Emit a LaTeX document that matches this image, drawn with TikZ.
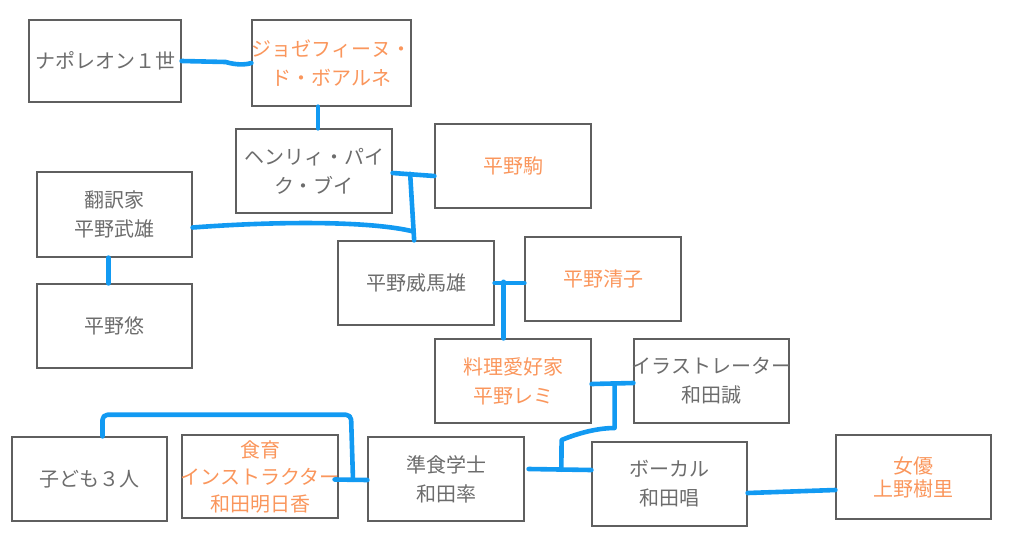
\documentclass[tikz,border=0pt]{standalone}
\usepackage{fontspec}
\usepackage{tikz}
\usetikzlibrary{calc}

\newfontfamily\jpfont{Noto Sans CJK JP}
\definecolor{boxgray}{RGB}{95,95,95}
\definecolor{textgray}{RGB}{108,108,108}
\definecolor{spouse}{RGB}{250,150,92}
\definecolor{linkblue}{RGB}{18,154,242}

\newcommand{\wideline}[1]{\makebox[150pt][c]{#1}}

\tikzset{
    person/.style={draw=boxgray, line width=1.2pt, minimum width=156pt, minimum height=84pt,
        inner sep=0pt, align=center, text=textgray, font=\jpfont\fontsize{20}{29}\selectfont},
    inlaw/.style={person, text=spouse},
    link/.style={draw=linkblue, line width=4.6pt, line cap=round, line join=round}
}

\begin{document}
\begin{tikzpicture}[x=1pt, y=-1pt]
        \useasboundingbox (0,0) rectangle (1024,538);

        %Boxes
        \node[person, minimum width=152pt, minimum height=82pt] (napoleon) at (105,61) {ナポレオン１世};
        \node[inlaw, minimum width=159pt, minimum height=86pt] (josephine) at (331.5,63) {\wideline{ジョゼフィーヌ・}\\ド・ボアルネ};
        \node[person] (henry) at (314,171) {ヘンリィ・パイ\\ク・ブイ};
        \node[inlaw] (koma) at (513,166) {平野駒};
        \node[person, minimum width=155pt, minimum height=85pt] (takeo) at (114.5,214.5) {翻訳家\\平野武雄};
        \node[person, minimum width=155pt] (yu) at (114.5,326) {平野悠};
        \node[person] (imao) at (416,283) {平野威馬雄};
        \node[inlaw] (kiyoko) at (603,279) {平野清子};
        \node[inlaw] (remi) at (513,381) {料理愛好家\\平野レミ};
        \node[person, minimum width=155pt] (makoto) at (711.5,381) {\wideline{イラストレーター}\\和田誠};
        \node[person, minimum width=155pt] (kids) at (89.5,479) {子ども３人};
        \node[inlaw, minimum height=83pt, font=\jpfont\fontsize{20}{27}\selectfont] (asuka) at (260,476.5) {食育\\\wideline{インストラクター}\\和田明日香};
        \node[person] (ritsu) at (446,479) {準食学士\\和田率};
        \node[person, minimum width=155pt] (sho) at (669.5,484) {ボーカル\\和田唱};
        \node[inlaw, minimum width=155pt, font=\jpfont\fontsize{20}{23}\selectfont] (juri) at (913.5,477) {女優\\上野樹里};

        %Lines
        \draw[link] (napoleon.east) -- ++(44,1) .. controls (236,65) and (245,65) .. (josephine.west);
        \draw[link] ($(henry.north)+(4,0)$) -- ($(henry.north |- josephine.south)+(4,0)$);

        \draw[link] ($(henry.east)+(0,2)$) -- ($(koma.west)+(0,10)$);
        \coordinate (hk) at ($(henry.east)!0.42!(koma.west)+(0,5)$);
        \draw[link] (hk) -- ($(hk |- imao.north)+(4,0)$);
        \draw[link] ($(takeo.east)+(0,13)$) .. controls (280,221) and (370,221) .. ($(hk |- imao.north)+(3,-9)$);
        \draw[link] ($(takeo.south)+(-6,0)$) -- ($(yu.north)+(-6,0)$);

        \draw[link] (imao.east) -- ($(kiyoko.west)+(0,4)$);
        \coordinate (ik) at ($(imao.east)!0.3!(kiyoko.west)$);
        \draw[link] (ik) -- (ik |- remi.north);

        \draw[link] ($(remi.east)+(0,3)$) -- ($(makoto.west)+(0,2)$);
        \coordinate (rm) at ($(remi.east)!0.55!(makoto.west)+(0,3)$);
        \draw[link] ($(ritsu.east)+(4,-10)$) -- ($(sho.west)+(0,-14)$);
        \coordinate (rs) at ($(ritsu.east)!0.55!(sho.west)+(0,-12)$);
        \draw[link] (rm) -- ++(0,44) .. controls +(-20,0) and +(12,-5) .. ++(-53,12) -- (rs);

        \draw[link] ($(asuka.east)+(-4,3)$) -- ($(ritsu.west)+(0,1)$);
        \coordinate (ar) at ($(asuka.east)!0.5!(ritsu.west)+(0,2)$);
        \coordinate (kt) at ($(kids.north)+(13,0)$);
        \draw[link, rounded corners=5pt] (ar) -- ++(-2,-65) coordinate (ac) -- (ac -| kt) -- (kt);

        \draw[link] ($(sho.east)+(0,9)$) -- ($(juri.west)+(0,13)$);
    \end{tikzpicture}
\end{document}
